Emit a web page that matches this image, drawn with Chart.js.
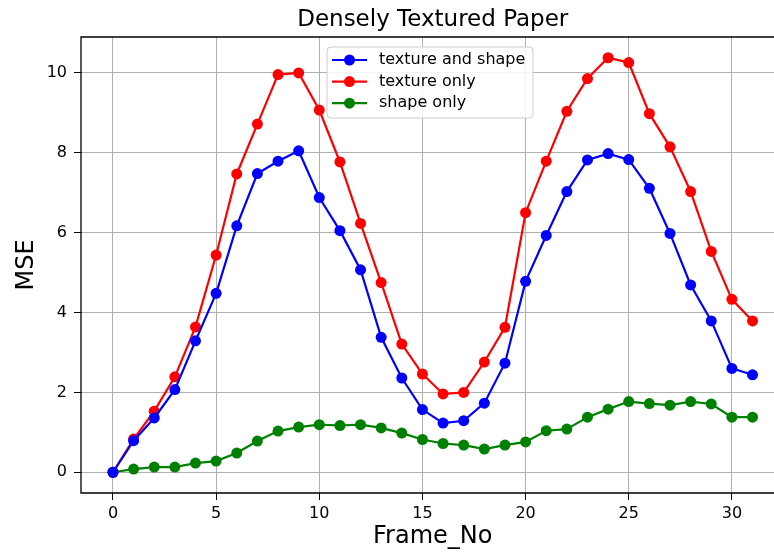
<!DOCTYPE html>
<html>
<head>
<meta charset="utf-8">
<script src="https://cdn.jsdelivr.net/npm/chart.js@4"></script>
<style>
  html, body { margin: 0; padding: 0; background: #fff; overflow: hidden; }
  #wrap { width: 774px; height: 553px; overflow: hidden; }
  #myChart { display: block; }
</style>
</head>
<body>
<div id="wrap"><canvas id="myChart" width="790" height="553"></canvas></div>
<script>
// frame numbers 0..31
const frames = [0, 1, 2, 3, 4, 5, 6, 7, 8, 9, 10, 11, 12, 13, 14, 15,
                16, 17, 18, 19, 20, 21, 22, 23, 24, 25, 26, 27, 28, 29, 30, 31];

const textureAndShape = [0, 0.79, 1.36, 2.07, 3.29, 4.48, 6.17, 7.48, 7.79, 8.05, 6.88, 6.05,
                         5.07, 3.38, 2.36, 1.57, 1.23, 1.29, 1.73, 2.73, 4.78, 5.93, 7.03, 7.82,
                         7.98, 7.83, 7.11, 5.98, 4.69, 3.79, 2.60, 2.44];

const textureOnly = [0, 0.83, 1.53, 2.39, 3.64, 5.44, 7.47, 8.72, 9.96, 10.0, 9.07, 7.77,
                     6.23, 4.75, 3.21, 2.46, 1.96, 2.00, 2.76, 3.63, 6.50, 7.79, 9.04, 9.86,
                     10.38, 10.26, 8.98, 8.15, 7.03, 5.53, 4.33, 3.79];

const shapeOnly = [0, 0.08, 0.13, 0.13, 0.23, 0.28, 0.48, 0.78, 1.03, 1.13, 1.19, 1.17,
                   1.19, 1.11, 0.98, 0.82, 0.72, 0.68, 0.58, 0.68, 0.76, 1.04, 1.08, 1.38,
                   1.58, 1.77, 1.72, 1.68, 1.77, 1.71, 1.38, 1.38];

const xTicks = [0, 5, 10, 15, 20, 25, 30];
const yTicks = [0, 2, 4, 6, 8, 10];

const FONT = "'DejaVu Sans', sans-serif";

function toPoints(ys) {
    return frames.map((f, i) => ({ x: f, y: ys[i] }));
}

function series(label, values, color) {
    return {
        label: label,
        data: toPoints(values),
        borderColor: color,
        backgroundColor: color,
        borderWidth: 2.2,
        pointRadius: 5.5,
        pointHoverRadius: 5.5,
        pointBorderWidth: 0,
        tension: 0,
    };
}

// axes spines: left, top and bottom (the right one sits past the visible edge)
const framePlugin = {
    id: 'frame',
    afterDatasetsDraw(chart) {
        const { ctx, chartArea: a } = chart;
        ctx.save();
        ctx.strokeStyle = '#000';
        ctx.lineWidth = 1.3;
        ctx.beginPath();
        ctx.moveTo(a.right, a.top);
        ctx.lineTo(a.left, a.top);
        ctx.lineTo(a.left, a.bottom);
        ctx.lineTo(a.right, a.bottom);
        ctx.stroke();
        ctx.restore();
    }
};

// boxed legend in the upper middle of the plot
const boxLegend = {
    id: 'boxLegend',
    afterDraw(chart) {
        const { ctx } = chart;
        const x = 327, y = 47, w = 206, h = 71, r = 4;
        ctx.save();
        ctx.beginPath();
        ctx.roundRect(x, y, w, h, r);
        ctx.fillStyle = 'rgba(255,255,255,0.85)';
        ctx.fill();
        ctx.strokeStyle = '#cccccc';
        ctx.lineWidth = 1;
        ctx.stroke();

        ctx.font = '16px ' + FONT;
        ctx.textBaseline = 'middle';
        chart.data.datasets.forEach((ds, i) => {
            const cy = 60 + i * 21.6;
            ctx.strokeStyle = ds.borderColor;
            ctx.lineWidth = 2.2;
            ctx.beginPath();
            ctx.moveTo(332, cy);
            ctx.lineTo(367, cy);
            ctx.stroke();
            ctx.fillStyle = ds.borderColor;
            ctx.beginPath();
            ctx.arc(349.5, cy, 5.5, 0, Math.PI * 2);
            ctx.fill();
            ctx.fillStyle = '#000';
            ctx.fillText(ds.label, 379, cy);
        });
        ctx.restore();
    }
};

function buildChart() {
    const data = {
        datasets: [
            series('texture and shape', textureAndShape, '#0000ff'),
            series('texture only', textureOnly, '#ff0000'),
            series('shape only', shapeOnly, '#008000'),
        ]
    };

    const config = {
        type: 'line',
        data: data,
        options: {
            responsive: false,
            animation: false,
            layout: { padding: { left: 0, right: 5, top: 0, bottom: 0 } },
            plugins: {
                legend: { display: false },
                tooltip: { enabled: false },
                title: {
                    display: true,
                    text: 'Densely Textured Paper',
                    fullSize: false,
                    color: '#000',
                    font: { family: FONT, size: 23, weight: 'normal' },
                    padding: { top: 6, bottom: 3.4 }
                }
            },
            scales: {
                x: {
                    type: 'linear',
                    min: -1.55,
                    max: 32.55,
                    afterBuildTicks: s => { s.ticks = xTicks.map(v => ({ value: v })); },
                    afterFit: s => { s.height = 60; },
                    ticks: {
                        color: '#000',
                        font: { family: FONT, size: 16 },
                        padding: 4,
                        maxRotation: 0,
                    },
                    grid: {
                        color: '#b0b0b0',
                        lineWidth: 1,
                        tickColor: '#000',
                        tickLength: 7,
                    },
                    border: { display: false },
                    title: {
                        display: true,
                        text: 'Frame_No',
                        color: '#000',
                        font: { family: FONT, size: 24 },
                        padding: { top: 0, bottom: 2 }
                    }
                },
                y: {
                    type: 'linear',
                    min: -0.52,
                    max: 10.9,
                    afterBuildTicks: s => { s.ticks = yTicks.map(v => ({ value: v })); },
                    afterFit: s => { s.width = 81; },
                    ticks: {
                        color: '#000',
                        font: { family: FONT, size: 16 },
                        padding: 7,
                    },
                    grid: {
                        color: '#b0b0b0',
                        lineWidth: 1,
                        tickColor: '#000',
                        tickLength: 7,
                    },
                    border: { display: false },
                    title: {
                        display: true,
                        text: 'MSE',
                        color: '#000',
                        font: { family: FONT, size: 24 },
                        padding: { top: 12, bottom: 0 }
                    }
                }
            }
        },
        plugins: [framePlugin, boxLegend]
    };

    new Chart(document.getElementById('myChart').getContext('2d'), config);
}

buildChart();
</script>
</body>
</html>
